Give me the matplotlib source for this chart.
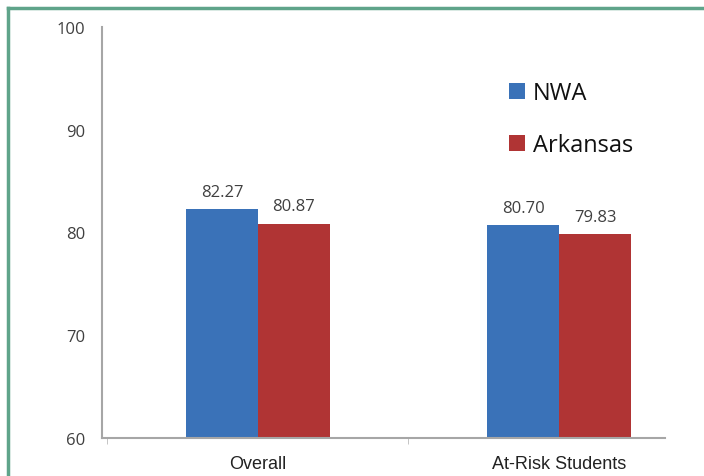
import numpy as np
import matplotlib.pyplot as plt
from matplotlib.lines import Line2D
from matplotlib import font_manager

categories = ['Overall', 'At-Risk Students']
nwa = [82.27, 80.70]
arkansas = [80.87, 79.83]
series_names = ['NWA', 'Arkansas']
yticks = [60, 70, 80, 90, 100]

BLUE = '#3A72B8'
RED = '#B03434'
TEXT = '#404040'

names = {f.name for f in font_manager.fontManager.ttflist}
narrow = 'Liberation Sans Narrow' if 'Liberation Sans Narrow' in names else 'Liberation Sans'


def main():
    fig = plt.figure(figsize=(7.04, 4.77), dpi=100)
    ax = fig.add_axes([102 / 704, (477 - 439) / 477, (665 - 102) / 704, (439 - 28) / 477])

    x = np.arange(len(categories))
    w = 0.239
    b1 = ax.bar(x - w / 2, [v - 60 for v in nwa], w, bottom=60, color=BLUE, label=series_names[0])
    b2 = ax.bar(x + w / 2, [v - 60 for v in arkansas], w, bottom=60, color=RED, label=series_names[1])
    for bars, vals in ((b1, nwa), (b2, arkansas)):
        for r, v in zip(bars, vals):
            ax.text(r.get_x() + r.get_width() / 2, v + 0.9, '%.2f' % v, ha='center', va='bottom',
                    fontsize=12, color=TEXT, family='Open Sans')

    ax.set_ylim(60, 100)
    ax.set_xlim(-0.518, 1.352)
    ax.set_yticks(yticks)
    ax.set_yticklabels([str(t) for t in yticks], fontsize=12, color=TEXT, family='Open Sans')
    ax.tick_params(axis='y', length=0, pad=12)
    ax.set_xticks(x)
    ax.set_xticklabels(categories, fontsize=13, color='#222222', family=narrow)
    ax.tick_params(axis='x', length=0, pad=12)
    ax.set_xticks([-0.502, 0.5], minor=True)
    ax.tick_params(axis='x', which='minor', length=4, color='#BBBBBB', direction='out')

    for s in ('top', 'right'):
        ax.spines[s].set_visible(False)
    ax.spines['left'].set_color('#A6A6A6')
    ax.spines['left'].set_linewidth(1.5)
    ax.spines['bottom'].set_color('#A6A6A6')
    ax.spines['bottom'].set_linewidth(1.5)

    leg = ax.legend(loc='upper left', bbox_to_anchor=(0.685, 0.92), frameon=False,
                    prop={'family': 'Open Sans', 'size': 17}, handlelength=0.7, handleheight=0.7,
                    handletextpad=0.3, labelspacing=1.2)
    for t in leg.get_texts():
        t.set_color('#111111')

    # green frame (top and left)
    green = '#5FA48A'
    fig.add_artist(Line2D([8 / 704, 1.0], [1 - 9 / 477, 1 - 9 / 477], color=green, lw=2.5,
                          transform=fig.transFigure))
    fig.add_artist(Line2D([8 / 704, 8 / 704], [0, 1 - 9 / 477], color=green, lw=2.5,
                          transform=fig.transFigure))

    fig.savefig('out.png', dpi=100)


if __name__ == '__main__':
    main()
